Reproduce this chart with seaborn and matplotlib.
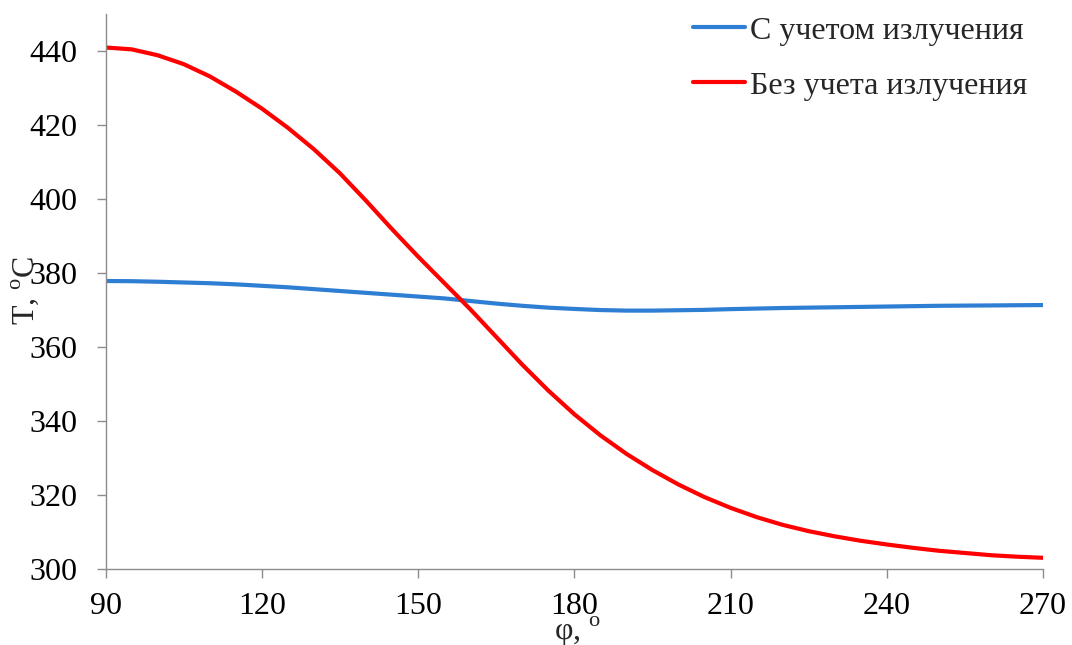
import numpy as np
import pandas as pd
import matplotlib
matplotlib.use('Agg')
import matplotlib.pyplot as plt
import seaborn as sns

# angle, degrees
phi = [90, 95, 100, 105, 110, 115, 120, 125, 130, 135, 140, 145, 150, 155,
       160, 165, 170, 175, 180, 185, 190, 195, 200, 205, 210, 215, 220, 225,
       230, 235, 240, 245, 250, 255, 260, 265, 270]

# temperature with radiation
t_rad = [377.9, 377.85, 377.7, 377.5, 377.3, 377.0, 376.6, 376.2, 375.7, 375.2,
         374.7, 374.2, 373.7, 373.2, 372.5, 371.8, 371.2, 370.7, 370.35, 370.05,
         369.9, 369.9, 370.0, 370.1, 370.3, 370.45, 370.6, 370.7, 370.8, 370.9,
         371.0, 371.1, 371.2, 371.25, 371.3, 371.35, 371.4]

# temperature without radiation
t_norad = [441.0, 440.5, 438.9, 436.5, 433.2, 429.1, 424.5, 419.3, 413.5, 407.0,
           399.6, 391.9, 384.5, 377.4, 370.3, 362.8, 355.3, 348.3, 341.9, 336.2,
           331.2, 326.8, 322.9, 319.5, 316.6, 314.1, 312.0, 310.3, 308.9, 307.7,
           306.7, 305.8, 305.0, 304.4, 303.8, 303.4, 303.1]

labels = ['С учетом излучения', 'Без учета излучения']
colors = ['#2E7ED4', '#FF0000']

df = pd.DataFrame({
    'phi': phi * 2,
    'T': t_rad + t_norad,
    'series': [labels[0]] * len(phi) + [labels[1]] * len(phi),
})

sns.set_style('ticks')
plt.rcParams['font.family'] = ['Liberation Serif', 'DejaVu Serif']
plt.rcParams['mathtext.fontset'] = 'custom'
plt.rcParams['mathtext.rm'] = 'Liberation Serif'
fs = 23

fig = plt.figure(figsize=(10.72, 6.45), dpi=100)
ax = fig.add_axes([0.0985, 0.1174, 0.8745, 0.8606])

sns.lineplot(data=df, x='phi', y='T', hue='series', palette=colors,
             linewidth=3, ax=ax, legend=True)

ax.set_xlim(90, 270)
ax.set_ylim(300, 450)
ax.set_xticks(range(90, 271, 30))
ax.set_yticks(range(300, 441, 20))

for side in ['top', 'right']:
    ax.spines[side].set_visible(False)
for side in ['left', 'bottom']:
    ax.spines[side].set_color('#8C8C8C')
    ax.spines[side].set_linewidth(1.0)
ax.tick_params(axis='both', colors='#8C8C8C', labelcolor='black',
               length=6.5, width=1.0, labelsize=fs)
ax.tick_params(axis='y', pad=13.5)
ax.tick_params(axis='x', pad=10)

ax.set_xlabel(r'φ, $^{\mathrm{o}}$', fontsize=fs)
ax.set_ylabel(r'T, $^{\mathrm{o}}$C', fontsize=fs)
ax.xaxis.set_label_coords(0.503, -0.082)
ax.yaxis.set_label_coords(-0.069, 0.503)

leg = ax.legend(loc='upper right', bbox_to_anchor=(1.014, 1.048), frameon=False,
                handlelength=1.65, handletextpad=0.15, labelspacing=0.8,
                fontsize=fs)

fig.savefig('out.png', dpi=100)
